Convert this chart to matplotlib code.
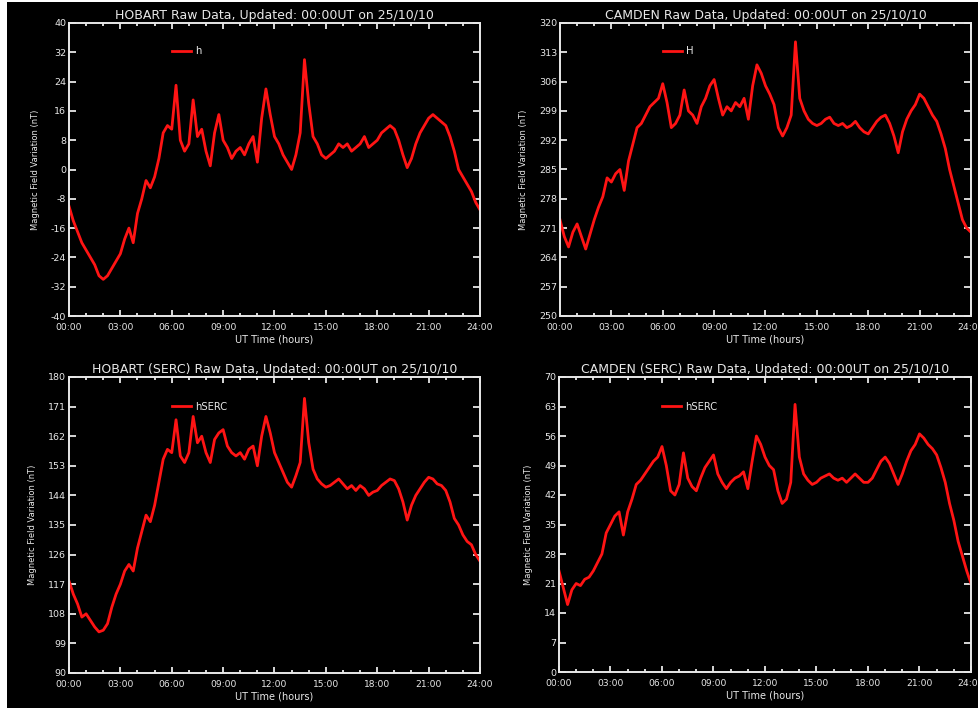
import matplotlib
matplotlib.use("Agg")
import matplotlib.pyplot as plt
from matplotlib.lines import Line2D
from matplotlib.patches import Rectangle

# ---------------- data (15-minute samples) ----------------
hours = [i * 0.25 for i in range(97)]

hobart_h = [
    -10, -14, -17, -20, -22, -24, -26, -29, -30, -29, -27, -25,
    -23, -19, -16, -20, -12, -8, -3, -5, -2, 3, 10, 12,
    11, 23, 8, 5, 7, 19, 9, 11, 5, 1, 10, 15,
    8, 6, 3, 5, 6, 4, 7, 9, 2, 14, 22, 15,
    9, 7, 4, 2, 0, 4, 10, 30, 18, 9, 7, 4,
    3, 4, 5, 7, 6, 7, 5, 6, 7, 9, 6, 7,
    8, 10, 11, 12, 11, 8, 4, 0.5, 3, 7, 10, 12,
    14, 15, 14, 13, 12, 9, 5, 0, -2, -4, -6, -9,
    -11]

camden_h = [
    273, 269, 266.5, 270, 272, 269, 266, 269.5, 273, 276, 278.5, 283,
    282, 284, 285, 280, 287, 291, 295, 296, 298, 300, 301, 302,
    305.5, 301, 295, 296, 298, 304, 299, 298, 296, 300, 302, 305,
    306.5, 302, 298, 300, 299, 301, 300, 302, 297, 305, 310, 308,
    305, 303, 300.5, 295, 293, 295, 298, 315.5, 302, 299, 297, 296,
    295.5, 296, 297, 297.5, 296, 295.5, 296, 295, 295.5, 296.5, 295, 294,
    293.5, 295, 296.5, 297.5, 298, 296, 293, 289, 294, 297, 299, 300.5,
    303, 302, 300, 298, 296.5, 293.5, 290, 285, 281, 277, 273, 271,
    270]

hobart_serc = [
    118, 114, 111, 107, 108, 106, 104, 102.5, 103, 105, 110, 114,
    117, 121, 123, 121, 128, 133, 138, 136, 141, 148, 155, 158,
    157, 167, 156, 154, 157, 168, 160, 162, 157, 154, 161, 163,
    164, 159, 157, 156, 157, 155, 158, 159, 153, 162, 168, 163,
    157, 154, 151, 148, 146.5, 150, 154, 173.5, 160, 152, 149, 147.5,
    146.5, 147, 148, 149, 147.5, 146, 147, 145.5, 147, 146, 144, 145,
    145.5, 147, 148, 149, 148.5, 146, 142, 136.5, 141, 144, 146, 148,
    149.5, 149, 147.5, 147, 145.5, 142, 137, 135, 132, 130, 129, 126,
    124]

camden_serc = [
    24, 20, 16, 19.5, 21, 20.5, 22, 22.5, 24, 26, 28, 33,
    35, 37, 38, 32.5, 38, 41, 44.5, 45.5, 47, 48.5, 50, 51,
    53.5, 49, 43, 42, 44.5, 52, 46, 44, 43, 46, 48.5, 50,
    51.5, 47, 45, 43.5, 45, 46, 46.5, 47.5, 43.5, 50, 56, 54,
    51, 49, 48, 43, 40, 41, 45, 63.5, 51, 47, 45.5, 44.5,
    45, 46, 46.5, 47, 46, 45.5, 46, 45, 46, 47, 46, 45,
    45, 46, 48, 50, 51, 49.5, 47, 44.5, 47, 50, 52.5, 54,
    56.5, 55.5, 54, 53, 51.5, 48.5, 45, 40, 36, 31, 27.5, 24,
    21]

titles = [
    "HOBART Raw Data, Updated: 00:00UT on 25/10/10",
    "CAMDEN Raw Data, Updated: 00:00UT on 25/10/10",
    "HOBART (SERC) Raw Data, Updated: 00:00UT on 25/10/10",
    "CAMDEN (SERC) Raw Data, Updated: 00:00UT on 25/10/10",
]
legend_labels = ["h", "H", "hSERC", "hSERC"]
y_ticks_hobart_h = [-40, -32, -24, -16, -8, 0, 8, 16, 24, 32, 40]
y_ticks_camden_h = [250, 257, 264, 271, 278, 285, 292, 299, 306, 313, 320]
y_ticks_hobart_serc = [90, 99, 108, 117, 126, 135, 144, 153, 162, 171, 180]
y_ticks_camden_serc = [0, 7, 14, 21, 28, 35, 42, 49, 56, 63, 70]
x_ticks = [0, 3, 6, 9, 12, 15, 18, 21, 24]
x_tick_labels = ["00:00", "03:00", "06:00", "09:00", "12:00",
                 "15:00", "18:00", "21:00", "24:00"]
x_label = "UT Time (hours)"
y_label = "Magnetic Field Variation (nT)"

# ---------------- figure ----------------
W, H = 979, 708
fig = plt.figure(figsize=(W / 100, H / 100), dpi=100, facecolor="white")
fig.patches.append(Rectangle((7 / W, 0), 1 - 7 / W, 1 - 2 / H,
                             transform=fig.transFigure, facecolor="black",
                             edgecolor="none", zorder=-10))

fg = "#e8e8e8"
red = "#ff1414"


def px_axes(left, top, right, bottom):
    return [left / W, 1 - bottom / H, (right - left) / W, (bottom - top) / H]


rects = [
    px_axes(69, 23, 480, 316),
    px_axes(560, 23, 971, 316),
    px_axes(69, 377, 480, 673),
    px_axes(559, 377, 971, 672),
]
series = [hobart_h, camden_h, hobart_serc, camden_serc]
yticks = [y_ticks_hobart_h, y_ticks_camden_h, y_ticks_hobart_serc, y_ticks_camden_serc]
leg_y = [0.904, 0.904, 0.90, 0.90]

for i in range(4):
    ax = fig.add_axes(rects[i])
    ax.set_facecolor("black")
    ax.plot(hours, series[i], color=red, lw=2.0, label=legend_labels[i])
    ax.set_xlim(0, 24)
    ax.set_ylim(yticks[i][0], yticks[i][-1])
    ax.set_xticks(x_ticks)
    ax.set_xticklabels(x_tick_labels)
    ax.set_xticks(range(0, 25), minor=True)
    ax.set_yticks(yticks[i])
    ax.set_yticklabels([str(v) for v in yticks[i]])
    for s in ax.spines.values():
        s.set_color(fg)
        s.set_linewidth(1.4)
    ax.tick_params(axis="both", which="both", direction="in", colors=fg,
                   top=True, right=True, width=1.3)
    ax.tick_params(axis="x", which="major", length=4.5, labelsize=6.6, pad=5)
    ax.tick_params(axis="x", which="minor", length=2.5)
    ax.tick_params(axis="y", which="major", length=5, labelsize=6.8, pad=2)
    for lab in ax.get_xticklabels() + ax.get_yticklabels():
        lab.set_color(fg)
    ax.set_title(titles[i], color=fg, fontsize=9, pad=3)
    ax.set_ylabel(y_label, color=fg, fontsize=6, labelpad=8)
    ax.set_xlabel(x_label, color=fg, fontsize=7, labelpad=2)
    handle = Line2D([], [], color=red, lw=2.0)
    leg = ax.legend([handle], [legend_labels[i]], loc="center left",
                    bbox_to_anchor=(0.25, leg_y[i]), frameon=False,
                    borderpad=0, borderaxespad=0, handlelength=1.9,
                    handletextpad=0.4, fontsize=7.2)
    for t in leg.get_texts():
        t.set_color(fg)

fig.savefig("out.png", dpi=100, facecolor=fig.get_facecolor())
